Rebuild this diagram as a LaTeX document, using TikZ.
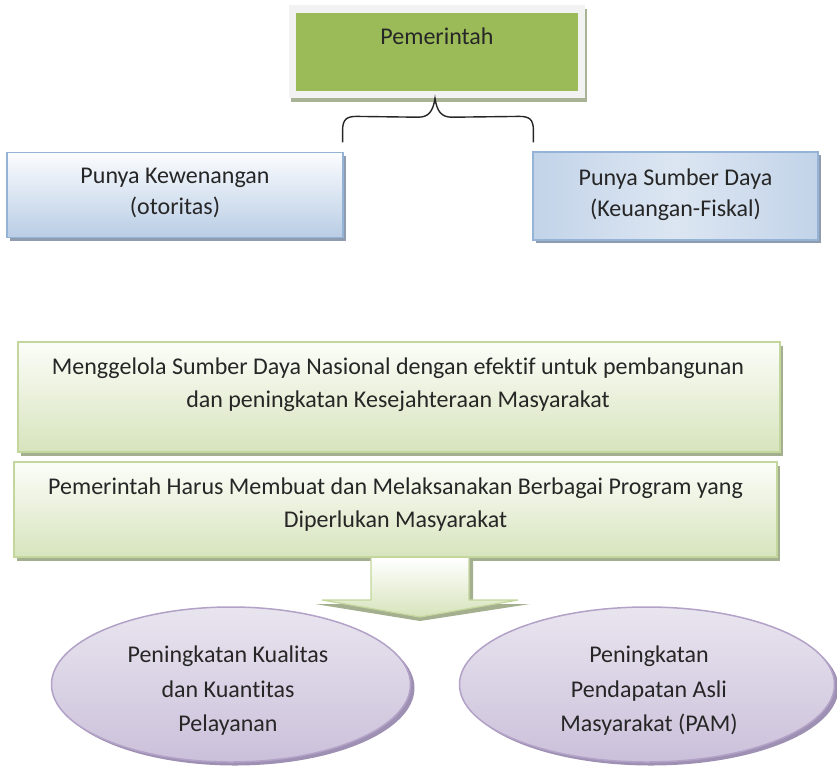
\documentclass[tikz,border=0pt]{standalone}
\usepackage{fontspec}
\setmainfont{Carlito}[Ligatures=CommonOff]
\usetikzlibrary{shapes.geometric,shadows,calc}
\definecolor{pemgreen}{HTML}{9BBB59}
\definecolor{pemframe}{HTML}{F2F2F2}
\definecolor{pemshadow}{HTML}{A7B394}
\definecolor{gtop}{HTML}{FCFDF9}
\definecolor{gbot}{HTML}{D7E4BD}
\definecolor{gborder}{HTML}{C3D69B}
\definecolor{gshadow}{HTML}{A3AF8E}
\definecolor{btop}{HTML}{FBFCFE}
\definecolor{bbot}{HTML}{B9CDE5}
\definecolor{bborder}{HTML}{95B3D7}
\definecolor{bshadow}{HTML}{8F9CB0}
\definecolor{bdark}{HTML}{A9C1DF}
\definecolor{blight}{HTML}{DCE6F2}
\definecolor{ptop}{HTML}{E9E5EF}
\definecolor{pbot}{HTML}{CBC0DA}
\definecolor{pborder}{HTML}{B3A2C7}
\definecolor{pshadow}{HTML}{9D90B3}
\definecolor{txtc}{HTML}{262626}
\pgfdeclarehorizontalshading{bluemid}{100bp}{color(0bp)=(bdark); color(50bp)=(blight); color(100bp)=(bdark)}
\begin{document}
\begin{tikzpicture}[x=1pt,y=-1pt,
  txt/.style={inner sep=0pt, align=center, text=txtc, font=\fontsize{24}{33}\selectfont},
  txtb/.style={txt, font=\fontsize{24}{31}\selectfont},
  txte/.style={txt, font=\fontsize{24}{34.5}\selectfont},
  pemframebox/.style={rectangle, fill=pemframe, minimum width=296pt, minimum height=93pt, inner sep=0pt,
     drop shadow={shadow xshift=1.5pt, shadow yshift=-3.5pt, fill=pemshadow, opacity=1}},
  pembox/.style={rectangle, fill=pemgreen, minimum width=282pt, minimum height=78pt, inner sep=0pt},
  bluebox/.style={rectangle, draw=bborder, line width=1.2pt, top color=btop, bottom color=bbot, inner sep=0pt,
     drop shadow={shadow xshift=3pt, shadow yshift=-3pt, fill=bshadow, opacity=1}},
  bluebox2/.style={bluebox, shading=bluemid},
  greenbox/.style={rectangle, draw=gborder, line width=1.5pt, top color=gtop, bottom color=gbot, inner sep=0pt,
     drop shadow={shadow xshift=3pt, shadow yshift=-3.5pt, fill=gshadow, opacity=1}},
  purpell/.style={ellipse, draw=pborder, line width=1.5pt, top color=ptop, bottom color=pbot, inner sep=0pt,
     drop shadow={shadow xshift=4pt, shadow yshift=-3.5pt, fill=pshadow, opacity=1}},
  bracepath/.style={draw=txtc, line width=1.4pt},
  arrowfill/.style={top color=white, bottom color=gbot!95!gborder, draw=gborder, line width=1.2pt}
]
\useasboundingbox (0,0) rectangle (837,769);

% top box
\node[pemframebox] (pemf) at (437,51.5) {};
\node[pembox] (pem) at (437,52) {};
\node[txt] (pemt) at (437,36) {Pemerintah};

% blue boxes
\node[bluebox, minimum width=336pt, minimum height=85pt] (kew) at (175,195) {};
\node[txtb] (kewt) at (175,193) {Punya Kewenangan\\(otoritas)};
\node[bluebox2, minimum width=285pt, minimum height=88pt] (sum) at (675.5,196) {};
\node[txtb] (sumt) at (675.5,195) {Punya Sumber Daya\\(Keuangan-Fiskal)};

% brace
\coordinate (bl) at ($(kew.north east)+(-1,-9.5)$);
\coordinate (br) at ($(sum.north west)+(1,-9)$);
\coordinate (bm) at ($(pemf.south)+(-2,0)$);
\draw[bracepath] (bl) -- ++(0,-12) .. controls +(0,-11) and +(-10,0) .. ++(14,-14)
  -- ($(bm)+(-17,19)$) .. controls +(10,0) and +(-2,14) .. (bm)
  .. controls +(2,14) and +(-10,0) .. ($(bm)+(17,19)$)
  -- ($(br)+(-14,-26)$) .. controls +(10,0) and +(0,-11) .. ($(br)+(0,-12)$) -- (br);

% green boxes
\node[greenbox, minimum width=762pt, minimum height=110pt] (nas) at (399,397) {};
\node[txt] (nast) at (398,384.5) {Menggelola Sumber Daya Nasional dengan efektif untuk pembangunan\\dan peningkatan Kesejahteraan Masyarakat};
\node[greenbox, minimum width=763pt, minimum height=95pt] (prog) at (395.5,509.5) {};
\node[txt] (progt) at (395.5,504.5) {Pemerintah Harus Membuat dan Melaksanakan Berbagai Program yang\\Diperlukan Masyarakat};

% arrow
\coordinate (atop) at (420,558);
\fill[gshadow] ($(atop)+(-46,0)$) -- ($(atop)+(-46,46)$) -- ($(atop)+(-105,46)$) -- ($(atop)+(0,63)$)
  -- ($(atop)+(110,46)$) -- ($(atop)+(53,46)$) -- ($(atop)+(53,0)$) -- cycle;
\path[arrowfill] ($(atop)+(-49,0)$) -- ($(atop)+(-49,42)$) -- ($(atop)+(-98,42)$) -- ($(atop)+(0,59)$)
  -- ($(atop)+(98,42)$) -- ($(atop)+(49,42)$) -- ($(atop)+(49,0)$);

% ellipses
\node[purpell, minimum width=359pt, minimum height=155pt] (kual) at (231,684.5) {};
\node[txte] (kualt) at (228,691) {Peningkatan Kualitas\\dan Kuantitas\\Pelayanan};
\node[purpell, minimum width=375pt, minimum height=155pt] (pam) at (647,684.5) {};
\node[txte] (pamt) at (649,691) {Peningkatan\\Pendapatan Asli\\Masyarakat (PAM)};
\end{tikzpicture}
\end{document}
